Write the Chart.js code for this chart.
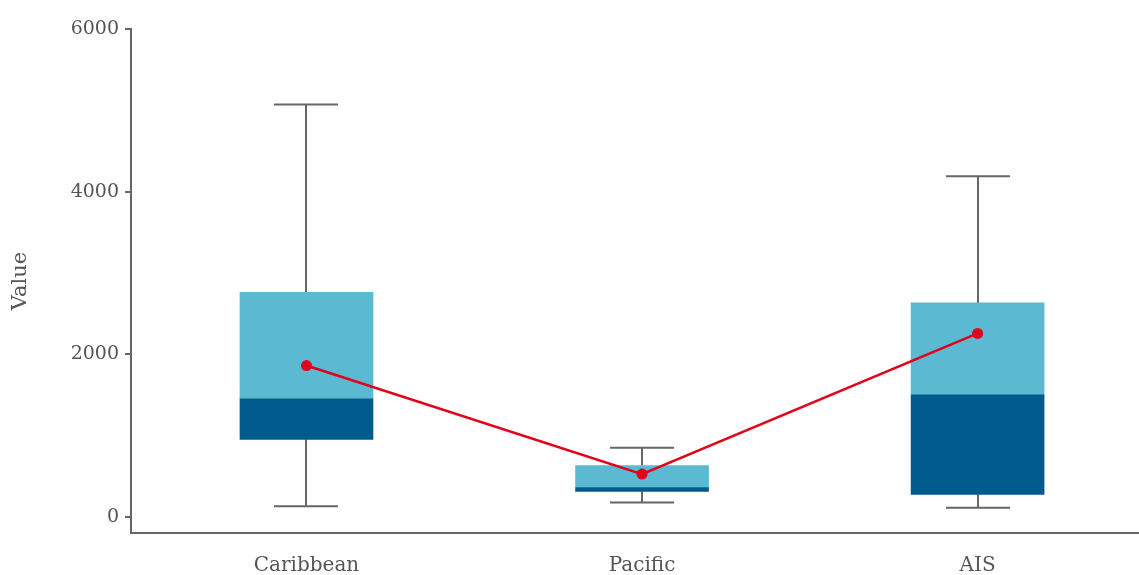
<!DOCTYPE html>
<html>
<head>
<meta charset="utf-8">
<style>
  html, body { margin: 0; padding: 0; background: #ffffff; overflow: hidden; }
  #wrap { width: 1139px; height: 575px; position: relative; }
</style>
<script src="https://cdn.jsdelivr.net/npm/chart.js@4/dist/chart.umd.min.js"></script>
</head>
<body>
<div id="wrap"><canvas id="chart" width="1139" height="575"></canvas></div>
<script>
// Box-plot summary per region
const categories   = ['Caribbean', 'Pacific', 'AIS'];
const whiskerLow   = [130, 175, 110];
const quartile1    = [950, 310, 275];
const medians      = [1450, 360, 1500];
const quartile3    = [2760, 630, 2630];
const whiskerHigh  = [5070, 850, 4190];
const means        = [1860, 525, 2255];
const yTickValues  = [0, 2000, 4000, 6000];

const LIGHT = '#5cb9d2';
const DARK  = '#005a8c';
const RED   = '#e2001a';
const GREY  = '#666666';
const TEXT  = '#555555';
const FONT  = "'DejaVu Serif', serif";

// whiskers + caps, drawn beneath the boxes
const whiskerPlugin = {
  id: 'whiskers',
  beforeDatasetsDraw(chart) {
    const { ctx, scales: { x, y } } = chart;
    ctx.save();
    ctx.strokeStyle = GREY;
    ctx.lineWidth = 2;
    const capHalf = 32;
    categories.forEach((c, i) => {
      const px = Math.round(x.getPixelForValue(i));
      const yLo = y.getPixelForValue(whiskerLow[i]);
      const yHi = y.getPixelForValue(whiskerHigh[i]);
      const yQ1 = y.getPixelForValue(quartile1[i]);
      const yQ3 = y.getPixelForValue(quartile3[i]);
      ctx.beginPath();
      ctx.moveTo(px, yLo); ctx.lineTo(px, yQ1);
      ctx.moveTo(px, yQ3); ctx.lineTo(px, yHi);
      ctx.moveTo(px - capHalf, yLo); ctx.lineTo(px + capHalf, yLo);
      ctx.moveTo(px - capHalf, yHi); ctx.lineTo(px + capHalf, yHi);
      ctx.stroke();
    });
    ctx.restore();
  }
};

const lowerBox = categories.map((c, i) => ({ x: i, y: [quartile1[i], medians[i]] }));
const upperBox = categories.map((c, i) => ({ x: i, y: [medians[i], quartile3[i]] }));
const meanPts  = categories.map((c, i) => ({ x: i, y: means[i] }));

new Chart(document.getElementById('chart'), {
  type: 'bar',
  data: {
    datasets: [
      {
        type: 'line',
        label: 'Mean',
        data: meanPts,
        borderColor: RED,
        backgroundColor: RED,
        borderWidth: 2.5,
        pointRadius: 5.5,
        pointBorderWidth: 0,
        pointBackgroundColor: RED,
        order: 0
      },
      {
        label: 'Q1–Median',
        data: lowerBox,
        backgroundColor: DARK,
        borderWidth: 0,
        barThickness: 133,
        grouped: false,
        order: 1
      },
      {
        label: 'Median–Q3',
        data: upperBox,
        backgroundColor: LIGHT,
        borderWidth: 0,
        barThickness: 133,
        grouped: false,
        order: 1
      }
    ]
  },
  options: {
    responsive: false,
    animation: false,
    layout: { autoPadding: false, padding: { top: 29, right: 0, left: 0, bottom: 0 } },
    plugins: { legend: { display: false }, tooltip: { enabled: false } },
    scales: {
      x: {
        type: 'linear',
        offset: false,
        min: -0.523,
        max: 2.481,
        afterBuildTicks(s) { s.ticks = categories.map((c, i) => ({ value: i })); },
        afterFit(s) { s.height = 42; s.paddingRight = 0; s.paddingLeft = 0; },
        grid: { display: false, drawTicks: false, offset: false },
        border: { display: true, color: GREY, width: 2 },
        ticks: {
          padding: 21,
          color: TEXT,
          font: { family: FONT, size: 20 },
          maxRotation: 0,
          autoSkip: false,
          callback: (v) => categories[v]
        }
      },
      y: {
        type: 'linear',
        min: -200,
        max: 6000,
        afterBuildTicks(s) { s.ticks = yTickValues.map(v => ({ value: v })); },
        afterFit(s) { s.width = 131; },
        grid: { drawOnChartArea: false, drawTicks: true, tickLength: 6, color: GREY, lineWidth: 2 },
        border: { display: true, color: GREY, width: 2 },
        ticks: {
          padding: 6,
          color: TEXT,
          font: { family: FONT, size: 19 },
          callback: (v) => String(v)
        },
        title: {
          display: true,
          text: 'Value',
          color: TEXT,
          font: { family: FONT, size: 21 },
          padding: { top: 8, bottom: 0 }
        }
      }
    }
  },
  plugins: [whiskerPlugin]
});
</script>
</body>
</html>
